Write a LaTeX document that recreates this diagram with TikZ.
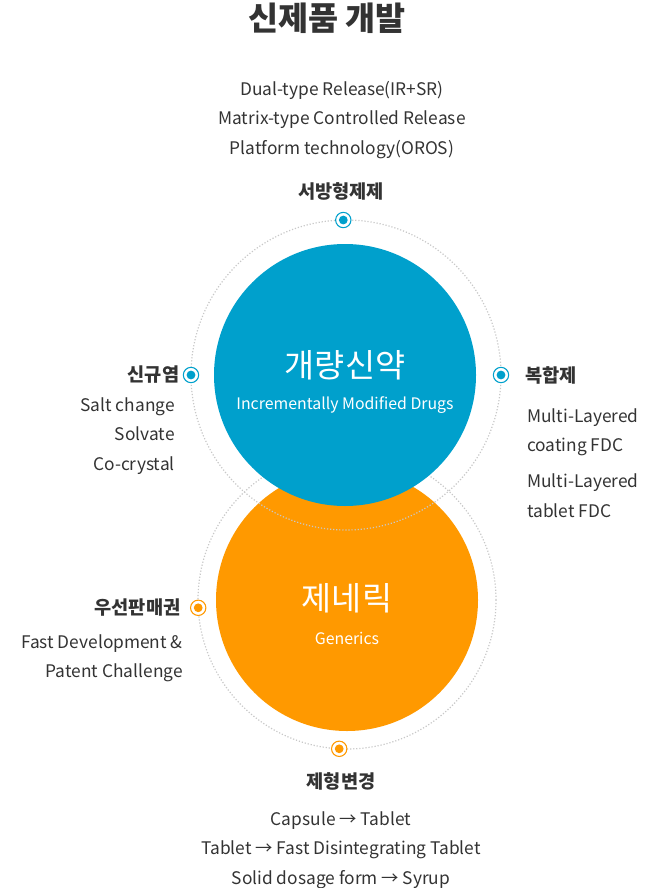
\documentclass[tikz,border=0pt]{standalone}
\usepackage{fontspec}
\setmainfont{Noto Sans CJK KR}
\usetikzlibrary{positioning}
\definecolor{drugblue}{RGB}{0,160,204}
\definecolor{genorange}{RGB}{255,153,0}
\definecolor{txtgray}{RGB}{51,51,51}
\definecolor{ringgray}{RGB}{200,200,200}

\tikzset{
  ring/.style={circle, draw=ringgray, line width=0.9pt, dash pattern=on 0.9pt off 1.4pt,
    minimum size=#1, inner sep=0pt, outer sep=0pt},
  disc/.style={circle, fill=#1, minimum size=196.5pt, inner sep=0pt, outer sep=0pt},
  dotmark/.style={circle, draw=#1, fill=white, line width=0.8pt, minimum size=11.5pt,
    inner sep=0pt, path picture={\fill[#1] (path picture bounding box.center) circle (3.3pt);}},
  head/.style={text=txtgray, font=\fontsize{14}{16}\selectfont\bfseries, inner sep=0pt},
  body/.style={text=txtgray, font=\fontsize{13}{22}\selectfont, inner sep=0pt, align=#1},
  disctitle/.style={text=white, font=\fontsize{24.5}{28}\selectfont, inner sep=0pt},
  discsub/.style={text=white, font=\fontsize{11.9}{16}\selectfont, inner sep=0pt},
}

\begin{document}
\begin{tikzpicture}[x=0.75pt,y=-0.75pt]
  \useasboundingbox (0,0) rectangle (657,888);
  \node[text=txtgray, font=\fontsize{24.5}{28}\selectfont\bfseries, inner sep=0pt] (title) at (327,18) {신제품 개발};

  % circles
  \node[disc=genorange] (generic) at (347,600) {};
  \node[ring=223.5pt] (oring) at (347,600) {};
  \node[ring=232.5pt] (bring) at (346,375) {};
  \node[disc=drugblue] (drug) at (345,375) {};

  \node[disctitle] (drugK) at (345,365) {개량신약};
  \node[discsub] (drugE) at (345,405) {Incrementally Modified Drugs};
  \node[disctitle] (genK) at (347,598) {제네릭};
  \node[discsub] (genE) at (347,638) {Generics};

  % markers
  \node[dotmark=drugblue] (mtop) at (bring.91.6) {};
  \node[dotmark=drugblue] (mleft) at (bring.west) {};
  \node[dotmark=drugblue] (mright) at (bring.east) {};
  \node[dotmark=genorange] (oleft) at (oring.183.8) {};
  \node[dotmark=genorange] (obottom) at (oring.267.7) {};

  % labels
  \node[head] (hSR) at (341,191) {서방형제제};
  \node[body=center] (tSR) at (342,120) {Dual-type Release(IR+SR)\\Matrix-type Controlled Release\\Platform technology(OROS)};

  \node[head, left=2.5pt of mleft] (hSalt) {신규염};
  \node[body=right, anchor=east] (tSalt) at (175,436) {Salt change\\Solvate\\Co-crystal};

  \node[head, right=12pt of mright] (hFDC) {복합제};
  \node[body=left, anchor=west] (tFDC) at (527,463) {Multi-Layered\\coating FDC\\[5pt]Multi-Layered\\tablet FDC};

  \node[head, left=7pt of oleft] (hPat) {우선판매권};
  \node[body=right, anchor=east] (tPat) at (183,658) {Fast Development \&\\Patent Challenge};

  \node[head] (hForm) at (341,781) {제형변경};
  \node[body=center] (tForm) at (341,850) {Capsule → Tablet\\Tablet → Fast Disintegrating Tablet\\Solid dosage form → Syrup};
\end{tikzpicture}
\end{document}
